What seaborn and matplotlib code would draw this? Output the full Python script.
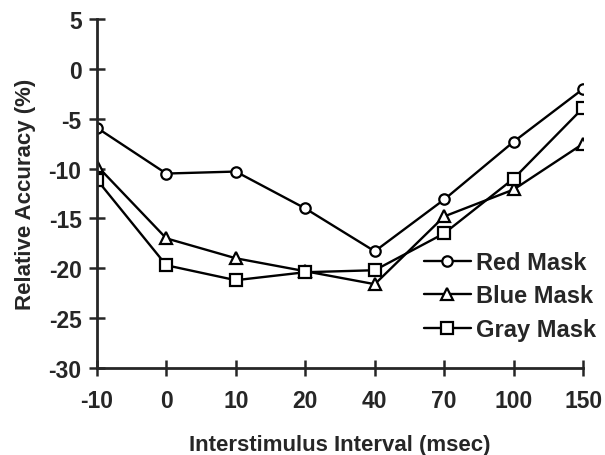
import matplotlib
matplotlib.use("Agg")
import matplotlib.pyplot as plt
import seaborn as sns
import pandas as pd

isi = ["-10", "0", "10", "20", "40", "70", "100", "150"]
red_mask = [-5.9, -10.5, -10.3, -14.0, -18.3, -13.1, -7.3, -2.0]
blue_mask = [-9.7, -17.0, -19.0, -20.3, -21.6, -14.8, -12.1, -7.5]
gray_mask = [-11.1, -19.7, -21.2, -20.4, -20.2, -16.5, -11.0, -3.9]

series = {"Red Mask": red_mask, "Blue Mask": blue_mask, "Gray Mask": gray_mask}
markers = {"Red Mask": "o", "Blue Mask": "^", "Gray Mask": "s"}

df = pd.concat(
    [pd.DataFrame({"isi": isi, "acc": v, "mask": k}) for k, v in series.items()],
    ignore_index=True,
)

sns.set_style("ticks")
plt.rcParams["font.family"] = ["Liberation Sans", "DejaVu Sans"]
plt.rcParams["font.weight"] = "bold"
plt.rcParams["axes.unicode_minus"] = False

fig = plt.figure(figsize=(6.05, 4.56), dpi=100)
ax = fig.add_axes([0.160, 0.191, 0.804, 0.765])

for name in series:
    sub = df[df["mask"] == name]
    sns.lineplot(
        data=sub,
        x="isi",
        y="acc",
        ax=ax,
        color="black",
        linewidth=1.7,
        marker=markers[name],
        markersize=8 if markers[name] != "o" else 7.5,
        markerfacecolor="white",
        markeredgecolor="black",
        markeredgewidth=1.6,
        label=name,
        sort=False,
    )

ax.set_xlim(0, len(isi) - 1)
ax.set_ylim(-30, 5)
ax.set_yticks(range(-30, 6, 5))
ax.set_xticks(range(len(isi)))
ax.set_xticklabels(isi)
ax.tick_params(direction="inout", length=12, width=1.8, labelsize=16.5)
ax.tick_params(axis="x", pad=9)
ax.tick_params(axis="y", pad=5)
for side in ["top", "right"]:
    ax.spines[side].set_visible(False)
for side in ["left", "bottom"]:
    ax.spines[side].set_linewidth(2)

ax.set_xlabel("Interstimulus Interval (msec)", fontsize=16, fontweight="bold", labelpad=16)
ax.set_ylabel("Relative Accuracy (%)", fontsize=16, fontweight="bold", labelpad=9)

ax.legend(
    loc="lower right",
    bbox_to_anchor=(1.045, 0.05),
    frameon=False,
    prop={"size": 17, "weight": "bold"},
    handlelength=2.0,
    handletextpad=0.2,
    labelspacing=0.45,
    borderaxespad=0,
)

fig.savefig("out.png", dpi=100)
